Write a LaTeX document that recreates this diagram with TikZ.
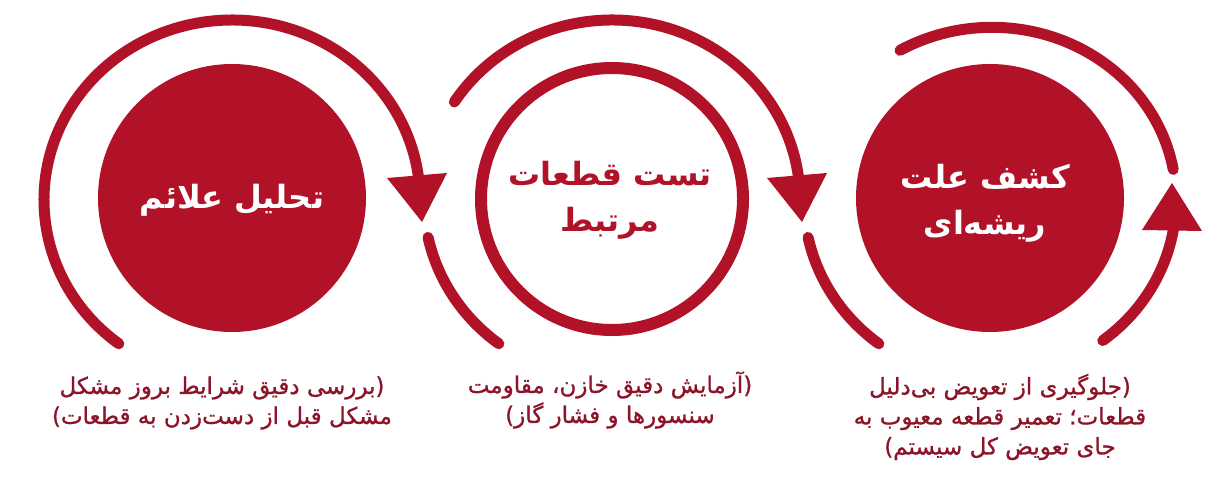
\documentclass[tikz,border=0pt]{standalone}
\usepackage{fontspec}
\TeXXeTstate=1
\newfontfamily\fa[Script=Arabic]{DejaVu Sans}
\newfontfamily\facap[Script=Arabic,FakeBold=0.9]{DejaVu Sans}
\definecolor{mainred}{RGB}{178,18,40}
\definecolor{capred}{RGB}{140,20,40}
\begin{document}
\begin{tikzpicture}[x=1pt,y=1pt,
  bigarc/.style={draw=mainred,line width=11pt,line cap=round},
  ahead/.style={fill=mainred},
  bigdisc/.style={circle,fill=mainred,minimum size=268pt,inner sep=0pt},
  ringdisc/.style={circle,draw=mainred,line width=12pt,minimum size=262pt,inner sep=0pt},
  title/.style={font=\fa\bfseries\fontsize{32}{46}\selectfont,align=center},
  caption/.style={text=capred,font=\facap\fontsize{23}{30}\selectfont,align=center}]
\useasboundingbox (0,0) rectangle (1231,485);
\fill[white] (0,0) rectangle (1231,485);

\coordinate (CL) at (232,285);
\coordinate (CM) at (612,285);
\coordinate (CR) at (992,285);

% circles
\node[bigdisc] (c1) at (232,287) {};
\node[ringdisc] (c2) at (612,286) {};
\node[bigdisc] (c3) at (990,287) {};

% left group arcs
\draw[bigarc] (CL) ++(233:188 and 180) arc[start angle=233,end angle=6,x radius=188,y radius=180];
\fill[ahead] (387,307) -- (447,312) -- (422,263) -- cycle;

% middle group arcs
\draw[bigarc] (CM) ++(192:188 and 180) arc[start angle=192,end angle=233,x radius=188,y radius=180];
\draw[bigarc] (CM) ++(147:188 and 180) arc[start angle=147,end angle=6,x radius=188,y radius=180];
\fill[ahead] (767,307) -- (827,312) -- (802,263) -- cycle;

% right group arcs
\draw[bigarc] (CR) ++(192:188 and 180) arc[start angle=192,end angle=233,x radius=188,y radius=180];
\draw[bigarc] (CR) ++(-53:184 and 176) arc[start angle=-53,end angle=-7,x radius=184,y radius=176];
\draw[bigarc] (CR) ++(10:184 and 176) arc[start angle=10,end angle=120,x radius=184,y radius=172];
\fill[ahead] (1142,255) -- (1202,254) -- (1172,302) -- cycle;

% titles
\node[title,text=white] (t1) at (232,285) {\beginR تحلیل علائم\endR};
\node[title,text=mainred] (t2) at (610,285) {\beginR تست قطعات\endR\\\beginR مرتبط\endR};
\node[title,text=white] (t3) at (985,282) {\beginR کشف علت\endR\\\beginR ریشه‌ای\endR};

% captions
\node[caption] (p1) at (222,82) {\beginR (بررسی دقیق شرایط بروز مشکل\endR\\\beginR مشکل قبل از دست‌زدن به قطعات)\endR};
\node[caption] (p2) at (610,85) {\beginR (آزمایش دقیق خازن، مقاومت\endR\\\beginR سنسورها و فشار گاز)\endR};
\node[caption] (p3) at (1000,68) {\beginR (جلوگیری از تعویض بی‌دلیل\endR\\\beginR قطعات؛ تعمیر قطعه معیوب به\endR\\\beginR جای تعویض کل سیستم)\endR};
\end{tikzpicture}
\end{document}
